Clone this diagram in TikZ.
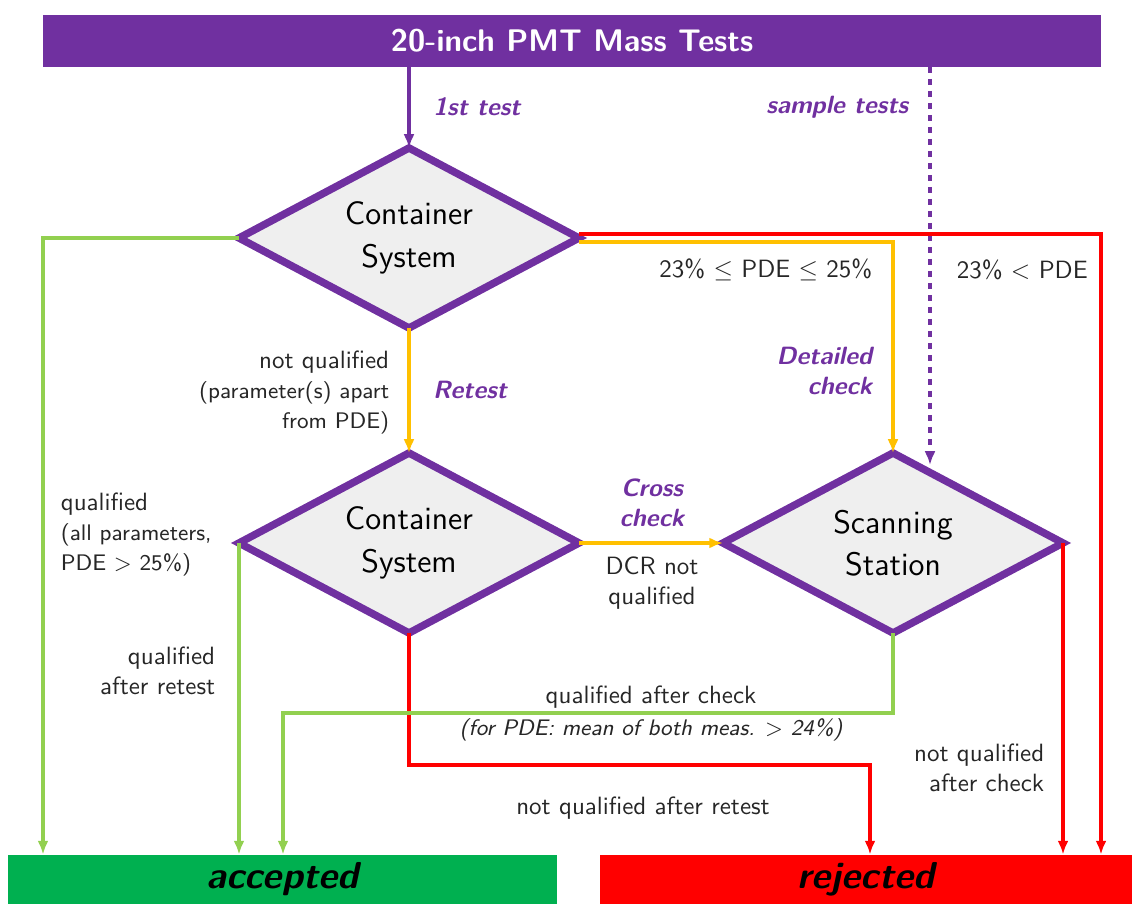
\documentclass[tikz,border=0pt]{standalone}
\usepackage{tikz}
\usetikzlibrary{shapes.geometric,arrows.meta}
\renewcommand{\familydefault}{\sfdefault}
\definecolor{pmtpurple}{HTML}{7030A0}
\definecolor{okgreen}{HTML}{92D050}
\definecolor{accgreen}{HTML}{00B050}
\definecolor{chkyellow}{HTML}{FFC000}
\definecolor{badred}{HTML}{FF0000}
\definecolor{boxgray}{HTML}{EFEFEF}

\begin{document}
\begin{tikzpicture}[x=0.4pt,y=-0.4pt,
  decision/.style={diamond, aspect=2, draw=pmtpurple, line width=3pt, fill=boxgray, minimum width=136pt, minimum height=72pt, inner sep=0pt, outer sep=0pt, align=center, font=\fontsize{13}{17}\selectfont},
  flow/.style={line width=1.4pt, -{Latex[length=5.5pt,width=4.4pt]}},
  stage/.style={text=pmtpurple, font=\bfseries\itshape, align=center},
  cond/.style={text=black!85, align=center},
  outcome/.style={minimum height=19.6pt, inner sep=0pt, font=\fontsize{15}{18}\selectfont\bfseries\itshape}]
\useasboundingbox (0,0) rectangle (1132,904);

% boxes
\node[fill=pmtpurple, text=white, minimum width=423.2pt, minimum height=20.8pt, inner sep=0pt, font=\fontsize{12.5}{15}\selectfont\bfseries] (title) at (572,41) {20-inch PMT Mass Tests};
\node[decision] (cs1) at (409,238) {Container\\System};
\node[decision] (cs2) at (409,543) {Container\\System};
\node[decision] (ss) at (893,543) {Scanning\\Station};
\node[outcome, fill=accgreen, minimum width=219.6pt] (acc) at (282.5,879.5) {accepted};
\node[outcome, fill=badred, minimum width=212.8pt] (rej) at (866,879.5) {rejected};

\coordinate (smp) at (930,67);
\coordinate (smpend) at (930,465);
\coordinate (grx) at (43,0);
\coordinate (redx) at (1101,0);
\coordinate (qa) at (283,713);
\coordinate (rj) at (870,765);

% connectors
\draw[flow, pmtpurple] (title.south -| cs1.north) -- (cs1.north);
\draw[flow, pmtpurple, dash pattern=on 2.4pt off 2.4pt] (smp) -- (smpend);
\draw[flow, okgreen] (cs1.west) -| (grx |- acc.north);
\draw[flow, badred] ([yshift=1.6pt]cs1.east) -| (redx |- rej.north);
\draw[flow, chkyellow] ([yshift=-1.6pt]cs1.east) -| (ss.north);
\draw[flow, chkyellow] (cs1.south) -- (cs2.north);
\draw[flow, okgreen] (cs2.west) -- (cs2.west |- acc.north);
\draw[flow, chkyellow] (cs2.east) -- (ss.west);
\draw[flow, badred] (cs2.south) |- (rj) -- (rj |- rej.north);
\draw[flow, okgreen] (ss.south) |- (qa) -- (qa |- acc.north);
\draw[flow, badred] (ss.east) -- (ss.east |- rej.north);

% labels
\node[stage] (first) at (477,107) {1st test};
\node[stage, anchor=east] (sample) at (917,107) {sample tests};
\node[cond, anchor=east] (pdemid) at (881,270) {23\% $\leq$ PDE $\leq$ 25\%};
\node[cond, anchor=west] (pdelow) at (948,270) {23\% $<$ PDE};
\node[stage, anchor=east, align=right] (detail) at (881,371) {Detailed\\check};
\node[cond, anchor=east, align=right] (notq) at (398,392) {not qualified\\{\small (parameter(s) apart}\\{\small from PDE)}};
\node[stage] (retest) at (470,390) {Retest};
\node[cond, anchor=west, align=left] (qual) at (52,534) {qualified\\{\small (all parameters,}\\{\small PDE $>$ 25\%)}};
\node[cond, anchor=east, align=right] (qretest) at (224,671) {qualified\\after retest};
\node[stage] (cross) at (652,503) {Cross\\check};
\node[cond] (dcr) at (652,583) {DCR not\\qualified};
\node[cond] (qcheck) at (651,697) {qualified after check};
\node[cond, font=\small\itshape] (mean) at (651,730) {(for PDE: mean of both meas. $>$ 24\%)};
\node[cond] (nqretest) at (643,808) {not qualified after retest};
\node[cond, anchor=east, align=right] (nqcheck) at (1053,768) {not qualified\\after check};
\end{tikzpicture}
\end{document}
